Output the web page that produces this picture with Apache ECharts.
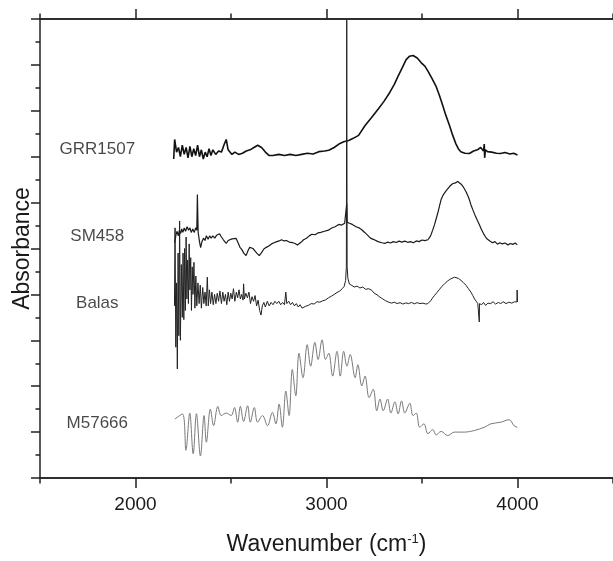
<!DOCTYPE html>
<html>
<head>
<meta charset="utf-8">
<script src="https://cdn.jsdelivr.net/npm/echarts@6/dist/echarts.min.js"></script>
<style>
html,body{margin:0;padding:0;background:#fff;}
#chart{width:613px;height:561px;}
</style>
</head>
<body>
<div id="chart"></div>
<script>
// ---- data (wavenumber cm^-1, offset absorbance) ----
const seriesNames = ['GRR1507', 'SM458', 'Balas', 'M57666'];

const grr1507 = [[2200,13.9],[2205,14.75],[2215,14.2],[2225,14.4],[2235,14.0],[2245,14.5],[2255,14.1],[2265,14.4],[2275,13.95],[2285,14.45],[2295,14.0],[2305,14.35],[2315,14.05],[2325,14.5],[2335,14.0],[2345,14.3],[2355,13.9],[2365,14.2],[2375,14.0],[2385,14.35],[2395,14.05],[2405,14.3],[2420,14.1],[2435,14.25],[2450,14.2],[2465,14.55],[2475,14.75],[2485,14.3],[2495,14.35],[2505,14.1],[2520,14.2],[2540,14.1],[2560,14.15],[2580,14.25],[2600,14.3],[2620,14.4],[2640,14.5],[2660,14.4],[2680,14.2],[2700,14.05],[2720,14.05],[2750,14.1],[2780,14.05],[2810,14.1],[2840,14.05],[2870,14.1],[2900,14.15],[2930,14.12],[2960,14.22],[2990,14.25],[3012,14.28],[3040,14.4],[3065,14.55],[3090,14.65],[3116,14.71],[3140,14.8],[3168,14.93],[3202,15.36],[3235,15.7],[3271,16.08],[3300,16.4],[3332,16.81],[3355,17.15],[3375,17.51],[3395,17.85],[3417,18.23],[3435,18.38],[3453,18.41],[3475,18.3],[3495,18.1],[3515,17.95],[3531,17.73],[3550,17.45],[3573,17.08],[3590,16.7],[3609,16.22],[3625,15.8],[3644,15.36],[3660,14.95],[3677,14.57],[3690,14.35],[3703,14.22],[3725,14.15],[3748,14.14],[3770,14.25],[3790,14.3],[3807,14.4],[3822,14.25],[3826,14.55],[3828,13.95],[3832,14.3],[3843,14.22],[3865,14.2],[3890,14.15],[3911,14.14],[3935,14.18],[3960,14.12],[3980,14.15],[4000,14.07]];

const sm458 = [[2205,10.26],[2212,10.6],[2218,10.75],[2224,10.55],[2230,10.8],[2236,10.65],[2242,10.85],[2248,10.7],[2255,10.9],[2262,10.75],[2270,10.95],[2278,10.8],[2285,10.9],[2292,10.7],[2300,10.85],[2308,10.7],[2315,10.9],[2321,10.8],[2324,12.35],[2328,10.7],[2335,10.3],[2341,10.04],[2348,10.3],[2356,10.45],[2364,10.35],[2371,10.56],[2380,10.4],[2388,10.55],[2396,10.45],[2405,10.55],[2415,10.45],[2425,10.58],[2433,10.5],[2440,10.64],[2450,10.5],[2460,10.38],[2468,10.3],[2475,10.22],[2485,10.35],[2495,10.3],[2505,10.42],[2515,10.47],[2527,10.44],[2537,10.25],[2547,10.05],[2557,9.95],[2567,9.8],[2579,9.69],[2590,9.92],[2598,10.05],[2605,10.13],[2615,10.0],[2625,9.9],[2635,9.8],[2648,9.69],[2660,9.82],[2672,9.98],[2685,10.05],[2700,10.12],[2712,10.2],[2725,10.25],[2740,10.3],[2752,10.33],[2765,10.38],[2778,10.33],[2790,10.35],[2805,10.28],[2821,10.26],[2835,10.22],[2848,10.15],[2856,10.12],[2868,10.28],[2880,10.38],[2895,10.45],[2910,10.55],[2923,10.62],[2940,10.6],[2955,10.68],[2970,10.7],[2985,10.74],[2995,10.76],[3010,10.8],[3025,10.88],[3045,10.95],[3064,11.05],[3080,11.02],[3095,11.1],[3104,11.1],[3106,11.95],[3108,11.15],[3120,11.1],[3135,11.05],[3155,10.95],[3170,10.9],[3183,10.83],[3200,10.7],[3215,10.58],[3230,10.45],[3245,10.4],[3254,10.36],[3270,10.3],[3290,10.25],[3306,10.22],[3320,10.28],[3335,10.24],[3350,10.3],[3365,10.26],[3380,10.32],[3395,10.28],[3410,10.32],[3425,10.27],[3440,10.3],[3455,10.25],[3470,10.33],[3485,10.3],[3500,10.37],[3515,10.34],[3531,10.38],[3545,10.55],[3556,10.8],[3566,11.05],[3576,11.35],[3585,11.62],[3593,11.9],[3600,12.13],[3612,12.35],[3625,12.5],[3644,12.7],[3660,12.82],[3675,12.86],[3687,12.92],[3697,12.84],[3705,12.8],[3715,12.7],[3722,12.63],[3732,12.45],[3745,12.2],[3756,11.91],[3768,11.65],[3780,11.4],[3790,11.22],[3800,11.05],[3810,10.85],[3822,10.65],[3833,10.5],[3843,10.4],[3857,10.32],[3870,10.25],[3882,10.3],[3895,10.19],[3907,10.25],[3920,10.2],[3935,10.24],[3950,10.15],[3962,10.22],[3975,10.18],[3988,10.24],[3999,10.16]];

const balas = [[2204,7.5],[2207,10.9],[2211,5.7],[2215,8.5],[2219,4.75],[2223,9.8],[2227,6.2],[2231,11.2],[2235,6.0],[2240,9.3],[2245,7.0],[2249,9.8],[2253,6.9],[2257,10.0],[2261,7.3],[2265,10.5],[2269,7.8],[2273,9.5],[2277,7.6],[2281,10.2],[2285,8.2],[2289,9.6],[2293,7.3],[2297,9.2],[2301,8.0],[2306,9.4],[2311,7.4],[2316,8.8],[2321,7.5],[2327,8.5],[2333,7.6],[2339,8.4],[2345,7.4],[2352,8.3],[2358,7.6],[2364,8.1],[2370,7.5],[2376,8.75],[2381,7.5],[2387,8.2],[2393,7.6],[2400,8.1],[2407,7.55],[2414,8.0],[2421,7.6],[2428,8.05],[2435,7.7],[2442,8.15],[2450,7.6],[2457,8.1],[2464,7.7],[2471,8.0],[2478,7.55],[2485,8.1],[2492,7.7],[2499,8.05],[2506,7.8],[2513,8.25],[2520,7.7],[2528,8.1],[2535,7.85],[2542,8.2],[2549,7.8],[2556,8.0],[2563,7.75],[2566,8.46],[2570,7.8],[2578,8.05],[2586,7.85],[2594,8.1],[2602,7.6],[2610,7.9],[2618,7.7],[2626,7.95],[2634,7.5],[2642,7.75],[2650,7.3],[2657,7.1],[2664,7.5],[2672,7.65],[2680,7.45],[2690,7.7],[2700,7.5],[2710,7.65],[2720,7.55],[2730,7.7],[2740,7.6],[2750,7.7],[2760,7.55],[2770,7.65],[2780,7.55],[2787,8.1],[2792,7.6],[2802,7.7],[2812,7.55],[2822,7.65],[2832,7.5],[2842,7.6],[2852,7.45],[2862,7.55],[2872,7.4],[2880,7.38],[2890,7.48],[2905,7.52],[2920,7.6],[2935,7.58],[2950,7.68],[2965,7.66],[2980,7.72],[2995,7.76],[3010,7.85],[3025,7.92],[3040,8.0],[3055,8.08],[3070,8.15],[3082,8.25],[3092,8.34],[3100,8.6],[3104,9.2],[3106,19.95],[3108,9.2],[3112,8.7],[3120,8.45],[3133,8.39],[3145,8.32],[3160,8.36],[3175,8.28],[3190,8.32],[3205,8.22],[3220,8.25],[3237,8.18],[3250,8.05],[3265,7.98],[3280,7.88],[3295,7.8],[3310,7.72],[3323,7.67],[3340,7.62],[3355,7.66],[3370,7.6],[3385,7.64],[3400,7.58],[3415,7.63],[3430,7.6],[3445,7.65],[3460,7.59],[3475,7.64],[3490,7.6],[3505,7.62],[3520,7.58],[3531,7.6],[3545,7.72],[3556,7.85],[3566,7.96],[3578,8.08],[3590,8.2],[3604,8.35],[3618,8.46],[3632,8.57],[3645,8.65],[3657,8.7],[3670,8.75],[3680,8.72],[3690,8.7],[3704,8.61],[3716,8.52],[3730,8.4],[3743,8.25],[3756,8.1],[3766,7.95],[3775,7.8],[3784,7.7],[3792,7.6],[3799,7.62],[3800,6.8],[3801,7.6],[3812,7.55],[3822,7.65],[3833,7.52],[3845,7.62],[3860,7.6],[3872,7.68],[3885,7.58],[3900,7.65],[3912,7.6],[3925,7.68],[3940,7.6],[3955,7.66],[3970,7.62],[3985,7.68],[3997,7.67],[3998,8.19],[4000,7.67]];

const m57666 = [[2206,2.57],[2246,2.79],[2264,1.21],[2284,2.83],[2302,1.06],[2319,2.80],[2340,0.96],[2359,2.72],[2371,1.56],[2392,3.0],[2409,2.28],[2431,3.12],[2449,2.72],[2475,2.83],[2501,2.72],[2518,3.07],[2535,2.43],[2549,3.12],[2566,2.46],[2587,3.15],[2601,2.43],[2622,3.07],[2639,2.43],[2665,2.72],[2691,2.28],[2717,2.86],[2735,2.36],[2752,3.22],[2769,2.21],[2787,3.79],[2804,2.72],[2821,4.73],[2839,3.58],[2856,5.44],[2877,4.37],[2899,5.81],[2917,4.87],[2939,5.91],[2956,5.16],[2977,6.02],[2995,5.16],[3012,5.44],[3032,4.44],[3055,5.52],[3072,4.44],[3090,5.52],[3107,4.87],[3124,5.38],[3150,4.37],[3164,4.94],[3185,4.01],[3202,4.44],[3223,3.50],[3245,3.87],[3263,2.93],[3280,3.44],[3297,2.93],[3320,3.44],[3337,2.83],[3358,3.32],[3375,2.79],[3393,3.36],[3410,2.83],[3436,3.26],[3453,2.72],[3470,2.83],[3488,2.21],[3510,2.36],[3531,1.93],[3557,2.11],[3574,1.88],[3600,2.03],[3635,1.85],[3670,2.0],[3722,2.0],[3774,2.07],[3826,2.21],[3860,2.36],[3912,2.43],[3956,2.54],[3982,2.28],[3999,2.21]];

// label anchor points (data units) for the sample names
const labelX = [1800, 1800, 1800, 1800];
const labelY = [14.31, 10.52, 7.63, 2.37];

const xMajorTicks = [2000, 3000, 4000];
const xMinorTicks = [1500, 2500, 3500, 4500];

const FONT = '"Liberation Sans", Arial, sans-serif';
const AX = '#222';

const chart = echarts.init(document.getElementById('chart'), null, {renderer: 'canvas'});

function xAx(pos, major, showLabel, extra) {
  return Object.assign({
    type: 'value', position: pos, min: 1500, max: 4500, interval: 500,
    axisLine: {show: true, lineStyle: {color: AX, width: 1.5}},
    axisTick: {show: true, inside: false, length: major ? 10 : 5.5,
               customValues: major ? xMajorTicks : xMinorTicks,
               lineStyle: {color: AX, width: 1.5}},
    axisLabel: {show: showLabel, customValues: xMajorTicks, fontSize: 19,
                fontFamily: FONT, color: '#1a1a1a', margin: 17,
                formatter: v => String(v)},
    splitLine: {show: false}
  }, extra || {});
}

const lineStyles = [
  {color: '#111', width: 1.6},
  {color: '#1a1a1a', width: 1.2},
  {color: '#222', width: 1.0},
  {color: '#7a7a7a', width: 1.0}
];
const dataSets = [grr1507, sm458, balas, m57666];

const series = dataSets.map((d, i) => ({
  name: seriesNames[i], type: 'line', data: d, showSymbol: false,
  smooth: i === 3 ? 0.35 : false,
  lineStyle: lineStyles[i], clip: true, animation: false, silent: true
}));

series.push({
  type: 'scatter', symbolSize: 0, silent: true, animation: false,
  data: seriesNames.map((n, i) => [labelX[i], labelY[i], n]),
  label: {show: true, position: 'inside', formatter: p => p.data[2],
          fontSize: 17, fontFamily: FONT, color: '#1a1a1a'}
});

chart.setOption({
  backgroundColor: '#fff',
  animation: false,
  grid: {left: 40, top: 19, width: 577, height: 464, containLabel: false},
  xAxis: [
    xAx('bottom', true, true, {
      name: 'Wavenumber (cm{sup|-1})', nameLocation: 'middle', nameGap: 55,
      nameTextStyle: {fontSize: 23, fontFamily: FONT, color: '#1a1a1a',
        rich: {sup: {fontSize: 13, fontFamily: FONT, color: '#1a1a1a', verticalAlign: 'top', padding: [0, 0, 10, 0]}}}
    }),
    xAx('bottom', false, false),
    xAx('top', true, false),
    xAx('top', false, false)
  ],
  yAxis: {
    type: 'value', min: 0, max: 20, interval: 2, position: 'left',
    axisLine: {show: true, lineStyle: {color: AX, width: 1.5}},
    axisTick: {show: true, inside: false, length: 9, lineStyle: {color: AX, width: 1.5}},
    minorTick: {show: true, splitNumber: 2, length: 4.5, lineStyle: {color: AX, width: 1.5}},
    axisLabel: {show: false},
    splitLine: {show: false},
    name: 'Absorbance', nameLocation: 'middle', nameGap: 6,
    nameTextStyle: {fontSize: 23, fontFamily: FONT, color: '#1a1a1a'}
  },
  series: series
});
</script>
</body>
</html>
